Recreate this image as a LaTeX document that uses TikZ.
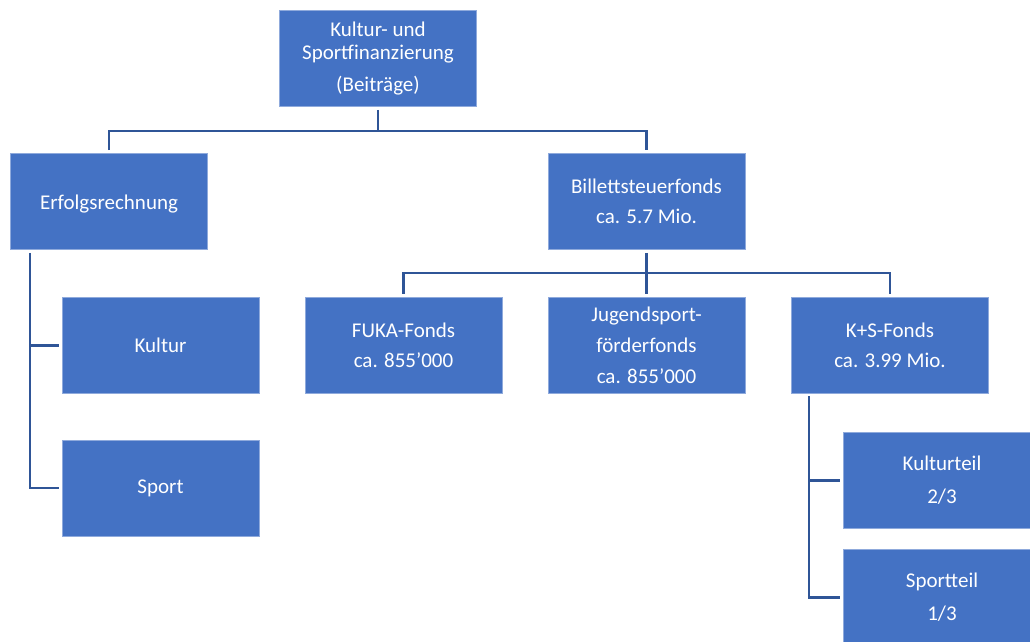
\documentclass[tikz,border=0pt]{standalone}
\usepackage{fontspec}
\setmainfont{Carlito}
\usetikzlibrary{calc}
\definecolor{boxblue}{HTML}{4472C4}
\definecolor{boxedge}{HTML}{8FAADC}
\definecolor{linkblue}{HTML}{2F5597}
\tikzset{
  orgbox/.style={rectangle, fill=boxblue, draw=boxedge, line width=0.6pt,
    minimum width=197pt, minimum height=96pt, inner sep=0pt,
    text=white, align=center, font=\fontsize{21}{23}\selectfont},
  conn/.style={draw=linkblue, line width=2.6pt}
}
\begin{document}
\begin{tikzpicture}[x=1pt,y=-1pt]
\useasboundingbox (0,0) rectangle (1030,641);
\clip (0,0) rectangle (1030,641);
\node[orgbox] (top) at (378,58.5) {Kultur- und\\Sportfinanzierung\\[9pt](Beiträge)};
\node[orgbox] (erf) at (109,201.5) {\rule{0pt}{19pt}Erfolgsrechnung};
\node[orgbox] (bil) at (646.5,201.5) {Billettsteuerfonds\\[7pt]ca. 5.7 Mio.};
\node[orgbox] (kul) at (160.5,345.5) {Kultur};
\node[orgbox] (spo) at (160.5,488) {Sport};
\node[orgbox] (fuka) at (403.5,345) {FUKA-Fonds\\[7pt]ca. 855’000};
\node[orgbox] (jug) at (646.5,345) {Jugendsport-\\[8pt]förderfonds\\[8pt]ca. 855’000};
\node[orgbox] (ks) at (890,345) {K+S-Fonds\\[7pt]ca. 3.99 Mio.};
\node[orgbox] (kt) at (942,480.5) {Kulturteil\\[10pt]2/3};
\node[orgbox] (st) at (942,597.5) {Sportteil\\[10pt]1/3};
\coordinate (bus1) at (0,131);
\coordinate (bus2) at (0,273);
\coordinate (lv) at (30,0);
\coordinate (rv) at (809,0);
% top level
\draw[conn] ($(top.south)+(0,3)$) -- (top.south |- bus1);
\draw[conn] ($(erf.north)+(0,-3)$) -- (erf.north |- bus1) -- (bil.north |- bus1) -- ($(bil.north)+(0,-3)$);
% Billettsteuerfonds level
\draw[conn] ($(bil.south)+(0,3)$) -- ($(jug.north)+(0,-3)$);
\draw[conn] ($(fuka.north)+(0,-3)$) -- (fuka.north |- bus2) -- (ks.north |- bus2) -- ($(ks.north)+(0,-3)$);
% Erfolgsrechnung branch
\draw[conn] ($(erf.south -| lv)+(0,3)$) -- (lv |- spo.west) -- ($(spo.west)+(-3,0)$);
\draw[conn] (lv |- kul.west) -- ($(kul.west)+(-3,0)$);
% K+S branch
\draw[conn] ($(ks.south -| rv)+(0,3)$) -- (rv |- st.west) -- ($(st.west)+(-3,0)$);
\draw[conn] (rv |- kt.west) -- ($(kt.west)+(-3,0)$);
\end{tikzpicture}
\end{document}
